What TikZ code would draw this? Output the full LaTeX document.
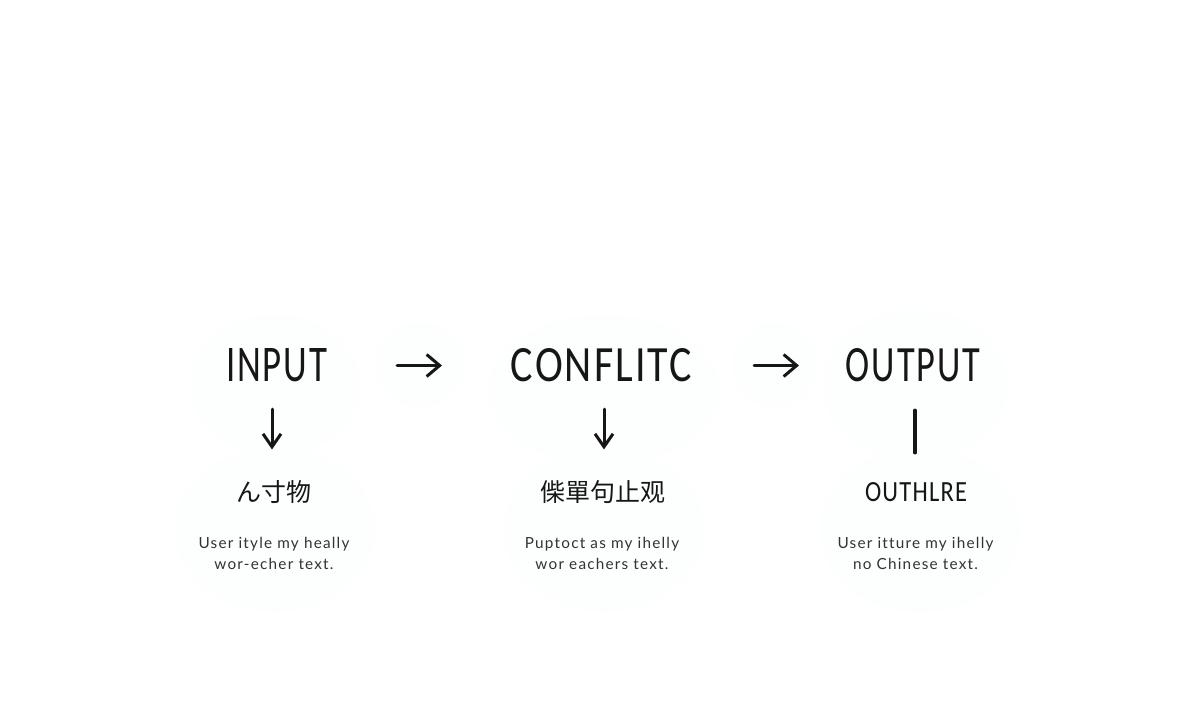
\documentclass[tikz,border=0pt]{standalone}
\usepackage{graphicx}
\usepackage{fontspec}
\usetikzlibrary{arrows.meta,calc}
\setmainfont[LetterSpace=5]{Carlito}
\newfontfamily\smallfont[LetterSpace=8,Ligatures=NoCommon]{Lato}
\newfontfamily\cjk{Noto Sans CJK SC}
\definecolor{ink}{HTML}{161616}
\definecolor{soft}{HTML}{333333}
\definecolor{haze}{HTML}{FDFEFE}
\tikzset{
  headline/.style={inner sep=0pt,outer sep=0pt,text=ink},
  subline/.style={inner sep=0pt,outer sep=0pt,text=ink},
  notetext/.style={inner sep=0pt,outer sep=0pt,text=soft,align=center,font=\smallfont\fontsize{15.3}{21}\selectfont},
  link/.style={draw=ink,line width=3pt,line cap=round,-{Straight Barb[length=13pt,width=22pt,line width=3pt]}},
  downlink/.style={draw=ink,line width=3pt,line cap=round,-{Straight Barb[length=13pt,width=18pt,line width=3pt]}},
  plainlink/.style={draw=ink,line width=3.2pt,line cap=round},
  blob/.style={fill=haze,draw=none}
}
\begin{document}
\begin{tikzpicture}[x=1pt,y=-1pt]
\useasboundingbox (0,0) rectangle (1200,720);
\fill[white] (0,0) rectangle (1200,720);
% faint background haze
\fill[blob] (275,385) ellipse (85pt and 70pt);
\fill[blob] (275,530) ellipse (100pt and 82pt);
\fill[blob] (420,365) ellipse (45pt and 42pt);
\fill[blob] (604,390) ellipse (115pt and 75pt);
\fill[blob] (604,530) ellipse (100pt and 82pt);
\fill[blob] (775,365) ellipse (42pt and 42pt);
\fill[blob] (915,385) ellipse (92pt and 75pt);
\fill[blob] (920,530) ellipse (100pt and 82pt);
% headlines
\node[headline] (input) at (276.5,365.5) {\resizebox{101pt}{33pt}{INPUT}};
\node[headline] (conflict) at (601.5,365.5) {\resizebox{181pt}{33pt}{CONFLITC}};
\node[headline] (output) at (913,365.5) {\resizebox{134pt}{33pt}{OUTPUT}};
% sublines
\node[subline] (inputsub) at (274,492) {\cjk\fontsize{25}{25}\selectfont ん寸物};
\node[subline] (conflictsub) at (603,492) {\cjk\fontsize{25}{25}\selectfont 偨單句止观};
\node[subline] (outputsub) at (916,492.5) {\resizebox{102pt}{19pt}{OUTHLRE}};
% notes
\node[notetext] (inputnote) at (274,553.5) {User ityle my heally\\wor-echer text.};
\node[notetext] (conflictnote) at (602,553.5) {Puptoct as my ihelly\\wor eachers text.};
\node[notetext] (outputnote) at (915.5,553.5) {User itture my ihelly\\no Chinese text.};
% connectors
\draw[link,shorten <=70pt,shorten >=69pt] (input.east) -- (input.east -| conflict.west);
\draw[link,shorten <=62pt,shorten >=47pt] (conflict.east) -- (conflict.east -| output.west);
\draw[downlink] ($(input.south)+(-4.5,27)$) -- ($(inputsub.north -| input.south)+(-4.5,-31)$);
\draw[downlink] ($(conflict.south)+(2.5,27)$) -- ($(conflictsub.north -| conflict.south)+(2.5,-31)$);
\draw[plainlink] ($(output.south)+(2,28)$) -- ($(outputsub.north -| output.south)+(2,-30)$);
\end{tikzpicture}
\end{document}
